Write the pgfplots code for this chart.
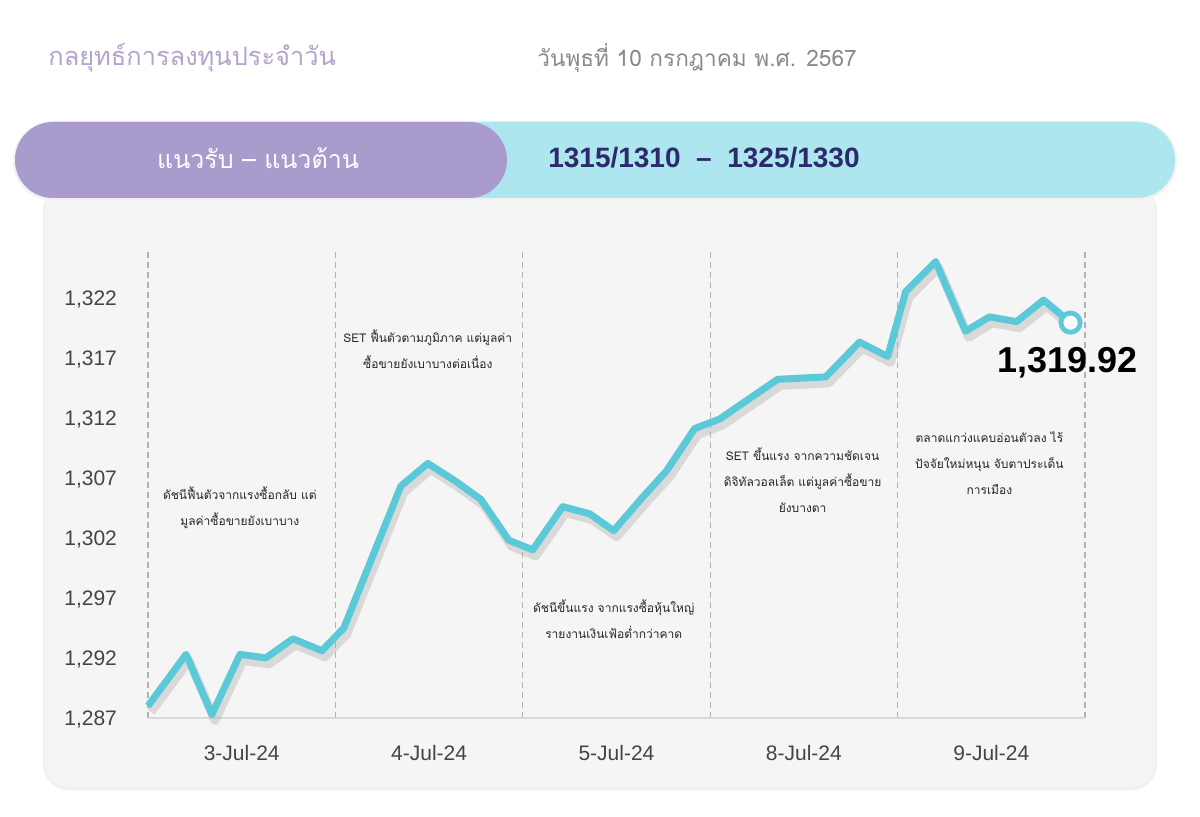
\documentclass[border=0pt]{standalone}
\usepackage{pgfplots}
\usepackage{pgfplotstable}
\pgfplotsset{compat=1.18}
\usepackage{fontspec}
\setmainfont{Liberation Sans}
\newfontfamily\thai[Script=Thai]{Loma}
\definecolor{linec}{HTML}{5CC9D8}
\definecolor{panel}{HTML}{F5F5F5}
\definecolor{cyanband}{HTML}{ADE6EE}
\definecolor{purpband}{HTML}{A99BCB}
\definecolor{titlec}{HTML}{B3A3CF}
\definecolor{datec}{HTML}{8A8A8A}
\definecolor{navy}{HTML}{2B2A6B}
\definecolor{tickc}{HTML}{444444}

\pgfplotstableread{
x y
0.000 1288.0
0.203 1292.3
0.341 1287.3
0.491 1292.3
0.629 1292.0
0.773 1293.6
0.928 1292.6
1.045 1294.5
1.349 1306.3
1.493 1308.2
1.643 1306.7
1.776 1305.2
1.925 1301.8
2.053 1301.0
2.213 1304.6
2.357 1304.0
2.485 1302.6
2.629 1305.2
2.768 1307.6
2.917 1311.1
3.051 1311.9
3.163 1313.1
3.360 1315.2
3.616 1315.4
3.797 1318.3
3.947 1317.1
4.043 1322.5
4.203 1325.0
4.363 1319.2
4.490 1320.4
4.635 1320.0
4.779 1321.8
4.923 1319.92
}\settable

\begin{document}
\begin{tikzpicture}
\begin{scope}[x=0.5pt,y=-0.5pt]
\useasboundingbox (0,0) rectangle (1200,817);
\fill[white] (0,0) rectangle (1200,817);
\fill[black!6, rounded corners=13pt] (43,185) rectangle (1157,790);
\fill[panel, rounded corners=12pt] (45,185) rectangle (1155,787);
\fill[black!5, rounded corners=20pt] (13,121) rectangle (1177,201);
\fill[cyanband, rounded corners=19pt] (15,122) rectangle (1175,198);
\fill[purpband, rounded corners=19pt] (15,122) rectangle (507,198);
\node[text=white, font=\thai\fontsize{12.5}{15}\selectfont] at (258,158) {แนวรับ – แนวต้าน};
\node[text=navy, font=\bfseries\fontsize{14}{17}\selectfont] at (704,158) {1315/1310\ \ –\ \ 1325/1330};
\node[anchor=west, inner sep=0pt, text=titlec, font=\thai\fontsize{12.7}{15}\selectfont] at (48,58) {กลยุทธ์การลงทุนประจำวัน};
\node[anchor=west, inner sep=0pt, text=datec, font=\thai\fontsize{11.3}{14}\selectfont] at (537,58) {วันพุธที่ 10 กรกฎาคม พ.ศ. 2567};
\end{scope}

\begin{axis}[
  at={(74pt,-359pt)}, anchor=south west,
  scale only axis, width=468.5pt, height=233pt,
  xmin=0, xmax=5, ymin=1287, ymax=1325.8,
  axis line style={draw=none},
  major tick length=0pt,
  xtick={0.5,1.5,2.5,3.5,4.5},
  xticklabels={3-Jul-24,4-Jul-24,5-Jul-24,8-Jul-24,9-Jul-24},
  extra x ticks={0,1,2,3,4,5},
  extra x tick labels={},
  extra x tick style={grid=major, major grid style={dash pattern=on 3pt off 2pt, gray!60, line width=0.6pt}},
  ytick={1287,1292,1297,1302,1307,1312,1317,1322},
  /pgf/number format/1000 sep={,},
  /pgf/number format/assume math mode=true,
  ticklabel style={font=\fontsize{10.5}{12}\selectfont, text=tickc},
  xticklabel style={yshift=-10pt},
  yticklabel style={xshift=-12pt, yshift=-1pt},
  clip=false,
]
\draw[gray!30, line width=0.8pt] (axis cs:0,1287) -- (axis cs:5,1287);
\addplot[gray!70, opacity=0.35, line width=4.5pt, line join=round, xshift=1.5pt, yshift=-3pt] table[x=x,y=y] {\settable};
\addplot[linec, line width=3.5pt, line join=round] table[x=x,y=y] {\settable};
\addplot[only marks, mark=*, mark size=4.8pt, mark options={fill=white, draw=linec, line width=2.4pt}] coordinates {(4.923,1319.92)};
\node[anchor=north, font=\bfseries\fontsize{18}{20}\selectfont, yshift=-9pt, xshift=-1.5pt] at (axis cs:4.923,1319.92) {1,319.92};

\begin{scope}[every node/.style={align=center, text=black!85, font=\thai\fontsize{6}{13}\selectfont}]
\node at (axis cs:0.49,1304.5) {ดัชนีฟื้นตัวจากแรงซื้อกลับ แต่\\มูลค่าซื้อขายยังเบาบาง};
\node at (axis cs:1.493,1317.67) {SET ฟื้นตัวตามภูมิภาค แต่มูลค่า\\ซื้อขายยังเบาบางต่อเนื่อง};
\node at (axis cs:2.485,1295.25) {ดัชนีขึ้นแรง จากแรงซื้อหุ้นใหญ่\\รายงานเงินเฟ้อต่ำกว่าคาด};
\node at (axis cs:3.493,1306.83) {SET ขึ้นแรง จากความชัดเจน\\ดิจิทัลวอลเล็ต แต่มูลค่าซื้อขาย\\ยังบางตา};
\node at (axis cs:4.49,1308.25) {ตลาดแกว่งแคบอ่อนตัวลง ไร้\\ปัจจัยใหม่หนุน จับตาประเด็น\\การเมือง};
\end{scope}
\end{axis}
\end{tikzpicture}
\end{document}
